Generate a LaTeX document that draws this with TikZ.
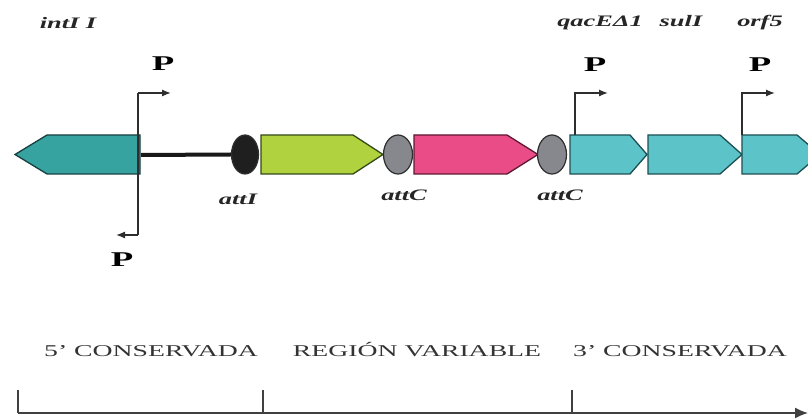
\documentclass[tikz,border=0pt]{standalone}
\usepackage{fontspec}
\setmainfont{Liberation Serif}
\usetikzlibrary{arrows.meta,shapes.geometric}

\definecolor{tealfill}{HTML}{36A3A0}
\definecolor{tealedge}{HTML}{173F40}
\definecolor{cyanfill}{HTML}{5CC4C8}
\definecolor{cyanedge}{HTML}{1D4E52}
\definecolor{limefill}{HTML}{B0D23E}
\definecolor{limeedge}{HTML}{34491A}
\definecolor{pinkfill}{HTML}{EA4C87}
\definecolor{pinkedge}{HTML}{5E1831}
\definecolor{greysite}{HTML}{86888D}
\definecolor{inkline}{HTML}{2E2E2E}

\tikzset{
  genebody/.style 2 args={draw=#2, line width=1.3pt, line join=miter, fill=#1},
  site/.style={ellipse, draw=inkline, line width=1.2pt,
    minimum width=29pt, minimum height=39pt, inner sep=0pt},
  promline/.style={draw=inkline, line width=1.3pt,
    -{Latex[length=9pt,width=7pt]}},
  promlabel/.style={font=\bfseries\fontsize{21}{21}\selectfont,
    xscale=1.75, anchor=base, inner sep=0pt},
  genelabel/.style={font=\bfseries\itshape\fontsize{16}{16}\selectfont,
    xscale=1.65, anchor=base, inner sep=0pt, text=black!85},
  regionlabel/.style={font=\fontsize{16.5}{16.5}\selectfont, text=black!80,
    xscale=1.68, anchor=base, inner sep=0pt},
  axisline/.style={draw=black!75, line width=1.4pt}
}

\begin{document}
\begin{tikzpicture}[x=1pt,y=-1pt]
\clip (0,0) rectangle (808,419);
\fill[white] (0,0) rectangle (808,419);

% intI1 gene, pointing left
\path[genebody={tealfill}{tealedge}]
  (140,135) -- (47,135) -- (15,154.5) -- (47,174) -- (140,174) -- cycle;
\coordinate (intEnd) at (141,155);

% cassette genes
\path[genebody={limefill}{limeedge}]
  (261,135) -- (353,135) -- (383,154.5) -- (353,174) -- (261,174) -- cycle;
\path[genebody={pinkfill}{pinkedge}]
  (414,135) -- (507,135) -- (538,154.5) -- (507,174) -- (414,174) -- cycle;

% 3' conserved genes
\path[genebody={cyanfill}{cyanedge}]
  (570,135) -- (630,135) -- (647,154.5) -- (630,174) -- (570,174) -- cycle;
\path[genebody={cyanfill}{cyanedge}]
  (648,135) -- (720,135) -- (742,154.5) -- (720,174) -- (648,174) -- cycle;
\path[genebody={cyanfill}{cyanedge}]
  (742,135) -- (797,135) -- (820,154.5) -- (797,174) -- (742,174) -- cycle;

% recombination sites
\node[site, fill=black!88, minimum width=27pt] (attI) at (245,154.5) {};
\node[site, fill=greysite] (attC1) at (398,154.5) {};
\node[site, fill=greysite] (attC2) at (552,154.5) {};

% linker between intI1 and attI
\draw[line width=4pt, black!90] (intEnd) -- (attI.west);

% promoters
\coordinate (pUp) at (138,93);
\coordinate (pDown) at (138,235);
\coordinate (pUpTip) at (171,93);
\coordinate (pDownTip) at (116,235);
\draw[draw=inkline, line width=1.3pt] (pUp) -- (pDown);
\draw[promline] (pUp) -- (pUpTip);
\draw[promline] (pDown) -- (pDownTip);

\coordinate (p2Base) at (575,135);
\coordinate (p2Top) at (575,93);
\coordinate (p2Tip) at (608,93);
\draw[promline] (p2Base) -- (p2Top) -- (p2Tip);

\coordinate (p3Base) at (742,135);
\coordinate (p3Top) at (742,93);
\coordinate (p3Tip) at (775,93);
\draw[promline] (p3Base) -- (p3Top) -- (p3Tip);

\node[promlabel] (pA) at (163,71) {P};
\node[promlabel] (pB) at (122,267) {P};
\node[promlabel] (pC) at (595,72) {P};
\node[promlabel] (pD) at (760,72) {P};

% gene and site names
\node[genelabel] (lInt) at (68,29) {intI I};
\node[genelabel] (lQac) at (600,27) {qacEΔ1};
\node[genelabel] (lSul) at (681,27) {sulI};
\node[genelabel] (lOrf) at (760,27) {orf5};
\node[genelabel] (lAttI) at (238,205) {attI};
\node[genelabel] (lAttC1) at (404,201) {attC};
\node[genelabel] (lAttC2) at (560,201) {attC};

% regions
\node[regionlabel] (r5) at (151,356) {5’ CONSERVADA};
\node[regionlabel] (rV) at (417,356) {REGIÓN VARIABLE};
\node[regionlabel] (r3) at (680,356) {3’ CONSERVADA};

% scale axis
\coordinate (ax0) at (18,413);
\coordinate (ax1) at (263,413);
\coordinate (ax2) at (572,413);
\coordinate (axEnd) at (808,413);
\draw[axisline, -{Latex[length=13pt,width=11pt]}] (ax0) -- (axEnd);
\draw[axisline] (ax0) -- ++(0,-23);
\draw[axisline] (ax1) -- ++(0,-23);
\draw[axisline] (ax2) -- ++(0,-23);
\end{tikzpicture}
\end{document}
